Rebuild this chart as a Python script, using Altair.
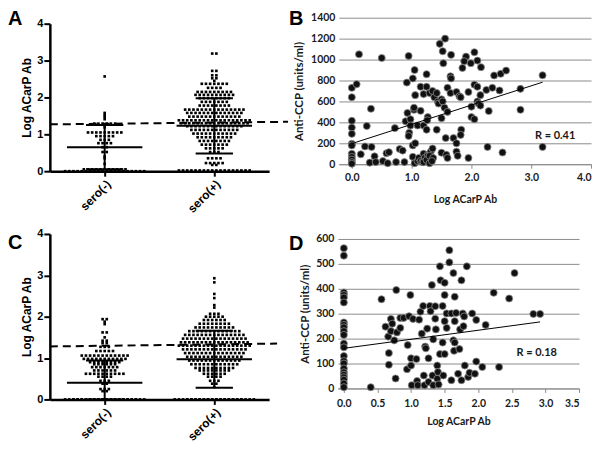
import altair as alt
import pandas as pd

# ---------------- data ----------------
groups = ["sero(-)", "sero(+)"]
group_pos = [0.5, 1.5]

# dot-plot rows: (Log ACarP Ab value, number of dots in that row)
a_neg_rows = [(2.57, 1), (1.58, 1), (1.52, 1), (1.47, 1), (1.41, 1), (1.29, 6), (1.19, 1),
              (1.05, 9), (0.95, 5), (0.85, 3), (0.76, 4), (0.65, 2), (0.52, 2), (0.4, 1),
              (0.35, 1), (0.2, 1), (0.05, 11), (0.0, 20)]
a_pos_rows = [(3.19, 2), (2.72, 2), (2.6, 2), (2.52, 2), (2.45, 1), (2.37, 7), (2.26, 4),
              (2.15, 9), (2.07, 10), (1.98, 8), (1.88, 7), (1.78, 8), (1.67, 15), (1.58, 14),
              (1.48, 13), (1.38, 18), (1.3, 17), (1.22, 14), (1.12, 12), (1.02, 11), (0.92, 9),
              (0.82, 8), (0.72, 7), (0.62, 5), (0.52, 3), (0.35, 4), (0.22, 5), (0.17, 2),
              (0.02, 18)]
c_neg_rows = [(1.94, 2), (1.88, 1), (1.82, 1), (1.62, 2), (1.5, 1), (1.42, 2), (1.36, 2),
              (1.27, 3), (1.17, 5), (1.06, 12), (0.98, 11), (0.9, 8), (0.85, 6), (0.78, 7),
              (0.7, 6), (0.62, 10), (0.55, 4), (0.45, 3), (0.38, 2), (0.25, 3), (0.2, 2),
              (0.0, 36)]
c_pos_rows = [(2.93, 1), (2.83, 1), (2.55, 1), (2.45, 1), (2.28, 1), (2.22, 1), (2.07, 3),
              (2.0, 5), (1.92, 6), (1.83, 8), (1.74, 10), (1.65, 13), (1.56, 15), (1.47, 16),
              (1.38, 17), (1.3, 18), (1.21, 16), (1.12, 15), (1.03, 14), (0.94, 13),
              (0.85, 12), (0.76, 10), (0.7, 8), (0.62, 6), (0.55, 4), (0.45, 3), (0.38, 2),
              (0.3, 1), (0.0, 34)]

# mean and SD per group
a_mean = [0.65, 1.23]
a_sd = [0.60, 0.75]
c_mean = [0.40, 0.97]
c_sd = [0.54, 0.69]
a_cutoff = [1.27, 1.34]
c_cutoff = [1.28, 1.35]

# scatter B
b_x = [0, 0, 0, 0, 0, 0, 0, 0, 0, 0, 0, 0,
       0.08, 0.12, 0.15, 0.22, 0.25, 0.3, 0.32, 0.33, 0.38, 0.4, 0.5, 0.52, 0.58, 0.6, 0.62,
       0.72, 0.74, 0.8, 0.85, 0.88, 0.92, 0.93, 0.9, 0.95, 0.96, 0.95, 0.98, 0.98, 1.02, 1.04,
       1.02, 1.02, 1.05, 1.06, 1.04, 1.06, 1.05, 1.1, 1.1, 1.12, 1.15, 1.15, 1.15, 1.18, 1.2,
       1.2, 1.2, 1.22, 1.2, 1.25, 1.25, 1.27, 1.26, 1.25, 1.27, 1.25, 1.3, 1.3, 1.32, 1.3, 1.3,
       1.35, 1.38, 1.35, 1.36, 1.34, 1.47, 1.42, 1.42, 1.44, 1.45, 1.52, 1.53, 1.5, 1.52, 1.5,
       1.5, 1.56, 1.55, 1.57, 1.6, 1.6, 1.58, 1.6, 1.66, 1.65, 1.66, 1.65, 1.7, 1.75, 1.75,
       1.75, 1.77, 1.8, 1.82, 1.83, 1.82, 1.85, 1.91, 1.88, 1.95, 1.95, 1.99, 2.0, 2.0, 2.05,
       2.05, 2.05, 2.1, 2.1, 2.1, 2.12, 2.15, 2.15, 2.16, 2.25, 2.27, 2.29, 2.35, 2.38, 2.49,
       2.47, 2.52, 2.58, 2.82, 2.82, 3.19, 3.19]
b_y = [730, 640, 415, 350, 290, 195, 180, 100, 70, 45, 20, 5,
       765, 1050, 95, 170, 365, 15, 530, 165, 75, 20, 1015, 30, 105, 10, 115,
       345, 20, 145, 130, 20, 780, 490, 410, 1035, 300, 270, 430, 370, 820, 520,
       180, 70, 900, 660, 540, 200, 10, 370, 30, 60, 740, 510, 30, 20, 670,
       370, 100, 60, 20, 740, 860, 450, 420, 330, 90, 40, 680, 100, 120, 80, 10,
       700, 640, 150, 60, 30, 1150, 680, 330, 600, 580, 1080, 965, 620, 600, 440,
       110, 1200, 540, 250, 730, 500, 90, 60, 1045, 840, 820, 680, 250, 690, 200,
       120, 80, 650, 640, 330, 280, 920, 1028, 984, 690, 60, 965, 550, 450, 1070,
       760, 430, 990, 740, 600, 580, 660, 560, 927, 710, 165, 508, 730, 848, 864,
       705, 112, 895, 720, 520, 850, 165]
b_fit_x = [0.0, 3.19]
b_fit_y = [197, 784]
b_r = "R = 0.41"
b_r_pos = [3.4, 267]

# scatter D
d_x = [0, 0, 0, 0, 0, 0, 0, 0, 0, 0, 0, 0, 0, 0, 0, 0, 0, 0, 0, 0, 0, 0, 0,
       0.4, 0.56, 0.62, 0.66, 0.67, 0.67, 0.7, 0.72, 0.7, 0.77, 0.78, 0.79, 0.75, 0.84, 0.89,
       0.84, 0.94, 0.95, 0.97, 0.99, 1.0, 1.0, 1.01, 1.03, 1.08, 1.09, 1.1, 1.12, 1.14, 1.16,
       1.18, 1.19, 1.2, 1.21, 1.22, 1.24, 1.26, 1.26, 1.28, 1.29, 1.31, 1.32, 1.33, 1.33,
       1.36, 1.36, 1.37, 1.39, 1.39, 1.4, 1.41, 1.43, 1.43, 1.44, 1.47, 1.47, 1.48, 1.5, 1.5,
       1.5, 1.5, 1.53, 1.53, 1.57, 1.57, 1.6, 1.6, 1.63, 1.63, 1.64, 1.65, 1.65, 1.67, 1.65,
       1.7, 1.72, 1.73, 1.75, 1.75, 1.77, 1.78, 1.79, 1.8, 1.83, 1.85, 1.87, 1.91, 1.95,
       1.97, 1.97, 2.06, 2.11, 2.23, 2.31, 2.46, 2.54, 2.82, 2.92]
d_y = [563, 533, 385, 375, 365, 345, 265, 255, 245, 230, 215, 180, 165, 130, 110, 100, 80,
       65, 55, 45, 35, 20, 5,
       5, 358, 248, 208, 142, 95, 279, 260, 230, 40, 395, 225, 193, 283, 283,
       243, 77, 174, 290, 375, 121, 92, 13, 279, 118, 30, 13, 276, 308, 220,
       331, 52, 13, 168, 161, 240, 121, 26, 331, 310, 415, 52, 197, 13,
       330, 280, 237, 92, 39, 66, 16, 490, 138, 434, 331, 184, 52, 424, 375,
       270, 138, 243, 301, 555, 506, 33, 301, 193, 463, 151, 270, 368, 303, 184,
       59, 158, 237, 434, 33, 301, 250, 289, 92, 490, 46, 63, 301, 59,
       275, 108, 86, 255, 384, 86, 361, 463, 299, 299]
d_fit_x = [0.0, 2.92]
d_fit_y = [161, 267]
d_r = "R = 0.18"
d_r_pos = [2.87, 142]

# ---------------- styling ----------------
ARIAL = "Liberation Sans"
CALI = "Lato"
DOT_STEP = 0.038       # horizontal distance between dots, in x units
MAX_PER_ROW = 20


def swarm(rows, center):
    xs, ys = [], []
    for v, n in rows:
        for i in range(n):
            sub = i // MAX_PER_ROW
            m = min(n - sub * MAX_PER_ROW, MAX_PER_ROW)
            k = i % MAX_PER_ROW
            xs.append(center + (k - (m - 1) / 2) * DOT_STEP)
            ys.append(v)
    return xs, ys


def letter_layer(letter, lx, ly):
    return alt.Chart(pd.DataFrame({"t": [letter]})).mark_text(
        font=ARIAL, fontSize=20, fontWeight="bold", align="left", baseline="top",
        color="black").encode(x=alt.value(lx), y=alt.value(ly), text="t:N")


def dot_panel(neg_rows, pos_rows, means, sds, cutoff, letter, width, height, dash_end, letter_y):
    xs1, ys1 = swarm(neg_rows, group_pos[0])
    xs2, ys2 = swarm(pos_rows, group_pos[1])
    dots = pd.DataFrame({"x": xs1 + xs2, "y": ys1 + ys2})

    xs = alt.Scale(domain=[0, 2], nice=False, zero=False)
    ys = alt.Scale(domain=[0, 4], nice=False)
    xaxis = alt.Axis(values=group_pos, tickCount=20,
                     labelExpr="datum.value < 1 ? 'sero(-)' : 'sero(+)'",
                     labelAngle=-45, labelOverlap=False, grid=False, domainColor="black",
                     domainWidth=2.5, tickColor="black", tickWidth=2, tickSize=5,
                     labelFont=ARIAL, labelFontWeight="bold", labelFontSize=12,
                     labelColor="black", labelPadding=2, title=None)
    yaxis = alt.Axis(values=[0, 1, 2, 3, 4], tickCount=20, format="d", labelOverlap=False,
                     grid=False, domainColor="black", domainWidth=2.5, tickColor="black",
                     tickWidth=2, tickSize=6, labelFont=ARIAL, labelFontWeight="bold",
                     labelFontSize=11, labelColor="black", labelPadding=1,
                     title="Log ACarP Ab", titleFont=ARIAL, titleFontWeight="bold",
                     titleFontSize=12, titleColor="black", titlePadding=3)

    base_pts = alt.Chart(dots).mark_square(size=7, color="black", opacity=1).encode(
        x=alt.X("x:Q", scale=xs, axis=xaxis),
        y=alt.Y("y:Q", scale=ys, axis=yaxis),
    )

    lo = [max(m - s, 0) for m, s in zip(means, sds)]
    hi = [m + s for m, s in zip(means, sds)]
    bars = pd.DataFrame({
        "x": [group_pos[0] - 0.344, group_pos[1] - 0.344,
              group_pos[0] - 0.17, group_pos[1] - 0.17,
              group_pos[0] - 0.17, group_pos[1] - 0.17],
        "x2": [group_pos[0] + 0.344, group_pos[1] + 0.344,
               group_pos[0] + 0.17, group_pos[1] + 0.17,
               group_pos[0] + 0.17, group_pos[1] + 0.17],
        "y": means + hi + lo,
    })
    hbars = alt.Chart(bars).mark_rule(color="black", strokeWidth=2).encode(
        x="x:Q", x2="x2:Q", y="y:Q")
    vbars = alt.Chart(pd.DataFrame({"x": group_pos, "lo": lo, "hi": hi})).mark_rule(
        color="black", strokeWidth=2).encode(x="x:Q", y="lo:Q", y2="hi:Q")

    dash = alt.Chart(pd.DataFrame({"y": [cutoff[0]], "y2": [cutoff[1]]})).mark_rule(
        color="black", strokeWidth=2, strokeDash=[8, 5]).encode(
        x=alt.value(0), x2=alt.value(dash_end), y="y:Q", y2="y2:Q")

    lab = letter_layer(letter, -42, letter_y)
    return alt.layer(base_pts, hbars, vbars, dash, lab).properties(width=width, height=height)


def scatter_panel(xv, yv, fit_x, fit_y, rtext, rpos, xdom, xticks, ymax, letter,
                  width, height, yrange, letter_x, letter_y, ytitle_pad, lab_pad, xtitle_pad,
                  spacer=None):
    pts = pd.DataFrame({"x": xv, "y": yv})
    xs = alt.Scale(domain=xdom, nice=False, zero=False)
    ys = alt.Scale(domain=[0, ymax], nice=False, range=yrange)
    xaxis = alt.Axis(values=xticks, tickCount=20, format=".1f", labelOverlap=False,
                     grid=False, domainColor="#8c8c8c", domainWidth=1, tickColor="#8c8c8c",
                     tickSize=4, tickWidth=1, labelFont=CALI, labelFontWeight="bold",
                     labelFontSize=10.5, labelColor="#1a1a1a", labelPadding=lab_pad,
                     title="Log ACarP Ab", titleFont=CALI, titleFontWeight="bold",
                     titleFontSize=10.5, titleColor="#1a1a1a", titlePadding=xtitle_pad)
    step = 200 if ymax > 700 else 100
    yaxis = alt.Axis(values=list(range(0, ymax + 1, step)), tickCount=20, format="d",
                     labelOverlap=False, grid=True, gridColor="#8c8c8c", gridWidth=1,
                     domain=False, ticks=False, labelFont=CALI, labelFontWeight="bold",
                     labelFontSize=10.5, labelColor="#1a1a1a", labelPadding=4,
                     title="Anti-CCP (units/ml)", titleFont=CALI, titleFontWeight="bold",
                     titleFontSize=11.5, titleColor="#1a1a1a", titlePadding=ytitle_pad)
    p = alt.Chart(pts).mark_circle(size=50, color="#111111", stroke="#8a8a8a",
                                   strokeWidth=0.8, opacity=1).encode(
        x=alt.X("x:Q", scale=xs, axis=xaxis), y=alt.Y("y:Q", scale=ys, axis=yaxis))
    fit = alt.Chart(pd.DataFrame({"x": fit_x, "y": fit_y})).mark_line(
        color="black", strokeWidth=1).encode(x="x:Q", y="y:Q")
    rt = alt.Chart(pd.DataFrame({"x": [rpos[0]], "y": [rpos[1]], "t": [rtext]})).mark_text(
        font=CALI, fontSize=11, fontWeight="bold", color="#1a1a1a").encode(
        x="x:Q", y="y:Q", text="t:N")
    layers = [p, fit, rt, letter_layer(letter, letter_x, letter_y)]
    if spacer is not None:
        layers.append(alt.Chart(pd.DataFrame({"k": [0]})).mark_rule(
            color="white", strokeWidth=1).encode(
            x=alt.value(spacer[0]), x2=alt.value(spacer[0] + 2), y=alt.value(spacer[1])))
    return alt.layer(*layers).properties(width=width, height=height)


A = dot_panel(a_neg_rows, a_pos_rows, a_mean, a_sd, a_cutoff, "A", 220, 148, 239, -15)
C = dot_panel(c_neg_rows, c_pos_rows, c_mean, c_sd, c_cutoff, "C", 220, 166, 228, -1)
B = scatter_panel(b_x, b_y, b_fit_x, b_fit_y, b_r, b_r_pos, [-0.2167, 4], [0, 1, 2, 3, 4],
                  1400, "B", 253, 141, [141, -6], -50, -15, 6, 4, 12)
D = scatter_panel(d_x, d_y, d_fit_x, d_fit_y, d_r, d_r_pos, [-0.089, 3.5],
                  [0, 0.5, 1, 1.5, 2, 2.5, 3, 3.5], 600, "D", 242, 150, [150, 0],
                  -49, -5, 5, 6, 8, spacer=(-45, -10))

chart = alt.concat(A, B, C, D, columns=2, align="none",
                   spacing={"row": 13, "column": 0}) \
    .properties(padding=0, background="white") \
    .configure_view(strokeWidth=0)

chart.save("out.html", embed_options={"renderer": "svg", "actions": False})
